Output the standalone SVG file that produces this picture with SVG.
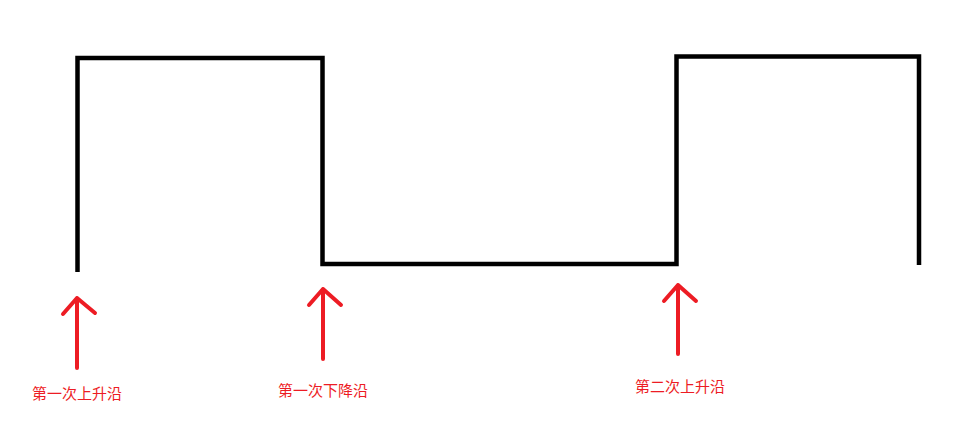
<svg xmlns="http://www.w3.org/2000/svg" width="960" height="428" viewBox="0 0 960 428">
<style>
.wave{fill:none;stroke:#000;stroke-width:4.5;stroke-linejoin:miter;stroke-linecap:butt}
.arr{fill:none;stroke:#ed1c24;stroke-width:4;stroke-linecap:round;stroke-linejoin:round}
.lbl{font-family:"Noto Sans CJK SC","Noto Sans",sans-serif;font-size:15px;fill:#ed1c24}
</style>
<rect width="960" height="428" fill="#fff"/>
<g id="connectors">
<path class="wave" d="M77.5,272 V58 H322.5 V264 H676.5 V56.5 H919 V265"/>
</g>
<g id="arrow1">
<path class="arr" d="M77,368 V298 M63,314 L77,298 L95,313"/>
<text class="lbl" x="32" y="399">第一次上升沿</text>
</g>
<g id="arrow2">
<path class="arr" d="M323,359 V289 M309,305 L323,289 L341,305"/>
<text class="lbl" x="278" y="396">第一次下降沿</text>
</g>
<g id="arrow3">
<path class="arr" d="M678,354 V285 M664,301 L678,285 L696,301"/>
<text class="lbl" x="635" y="392">第二次上升沿</text>
</g>
</svg>
